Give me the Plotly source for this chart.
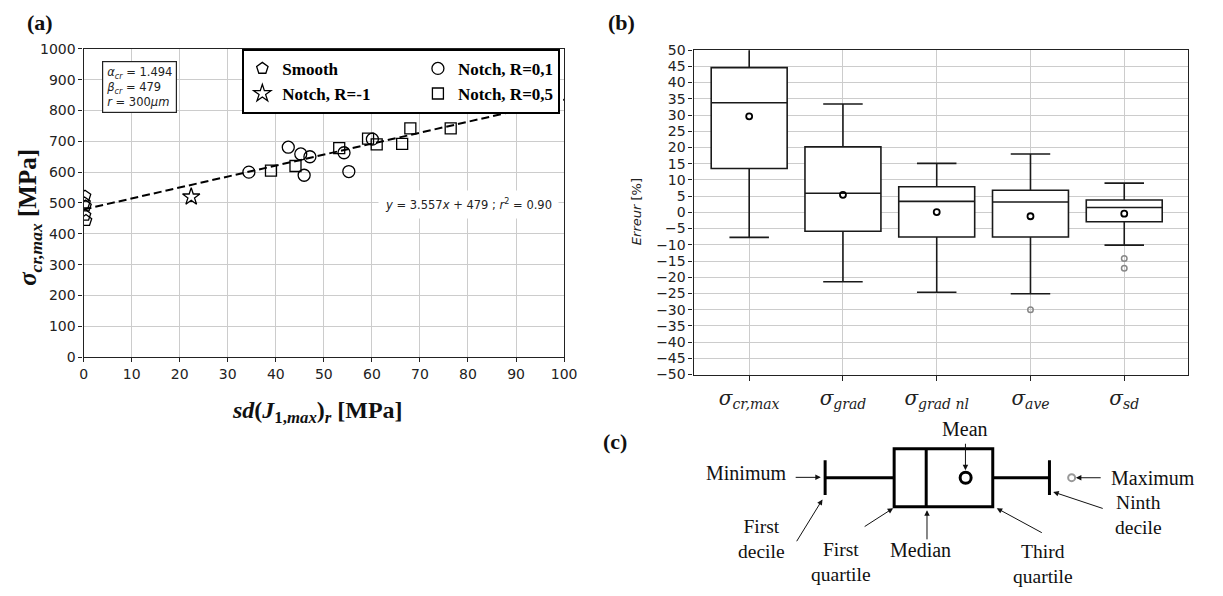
import plotly.graph_objects as go

W, H = 1223, 596


def px(x, y):
    return x / W, 1 - y / H


# ---------------- Panel (a) data ----------------
smooth_x = [0.3, 0.2, 0.4, 0.3, 0.5]
smooth_y = [522, 500, 490, 460, 443]
star_x = [22.4]
star_y = [520]
r01_x = [34.4, 42.6, 45.2, 45.9, 47.1, 54.2, 55.2, 60.1]
r01_y = [600, 681, 659, 590, 650, 663, 602, 707]
r05_x = [39.0, 44.1, 53.2, 59.2, 61.0, 66.3, 68.0, 76.4]
r05_y = [605, 620, 678, 709, 690, 692, 742, 742]
fit_x = [0, 100]
fit_y = [479, 834.7]

# ---------------- Panel (b) data ----------------
box_pos = [1, 2, 3, 4, 5]
box_labels = [
    "<i>σ</i><sub><i>cr,max</i></sub>",
    "<i>σ</i><sub><i>grad</i></sub>",
    "<i>σ</i><sub><i>grad nl</i></sub>",
    "<i>σ</i><sub><i>ave</i></sub>",
    "<i>σ</i><sub><i>sd</i></sub>",
]
q1 = [13.5, -5.8, -7.6, -7.6, -2.9]
median = [33.8, 5.9, 3.4, 3.2, 1.5]
q3 = [44.6, 20.2, 7.9, 6.8, 3.8]
low_whisker = [-7.7, -21.4, -24.6, -25.1, -10.1]
high_whisker = [56.0, 33.4, 15.1, 18.0, 9.0]
means = [29.6, 5.4, 0.1, -1.2, -0.4]
outlier_pos = [4, 5, 5]
outlier_val = [-30.0, -14.2, -17.2]

# ---------------- Panel (c) schematic data ----------------
sch_d1 = [0]
sch_q1 = [14]
sch_med = [20.5]
sch_q3 = [34]
sch_d9 = [45.5]
sch_mean = [28.5]
sch_max = [50]

fig = go.Figure()

mk_line = dict(color="black", width=1.3)
pad = "&nbsp;" * 10
fig.add_trace(go.Scatter(x=fit_x, y=fit_y, mode="lines",
                         line=dict(color="black", width=2, dash="8px,4px"),
                         showlegend=False, xaxis="x", yaxis="y"))
fig.add_trace(go.Scatter(x=smooth_x, y=smooth_y, mode="markers", name="<b>Smooth</b>" + pad,
                         legendgroup="L", marker=dict(symbol="pentagon-open", size=12, line=mk_line, color="black"),
                         xaxis="x", yaxis="y"))
fig.add_trace(go.Scatter(x=star_x, y=star_y, mode="markers", name="<b>Notch, R=-1</b>" + pad,
                         legendgroup="L", marker=dict(symbol="star-open", size=13, line=mk_line, color="black"),
                         xaxis="x", yaxis="y"))
fig.add_trace(go.Scatter(x=r01_x, y=r01_y, mode="markers", name="<b>Notch, R=0,1</b>",
                         legendgroup="R", marker=dict(symbol="circle-open", size=12, line=mk_line, color="black"),
                         xaxis="x", yaxis="y"))
fig.add_trace(go.Scatter(x=r05_x, y=r05_y, mode="markers", name="<b>Notch, R=0,5</b>",
                         legendgroup="R", marker=dict(symbol="square-open", size=11, line=mk_line, color="black"),
                         xaxis="x", yaxis="y"))

# Panel (b) boxes
fig.add_trace(go.Box(x=box_pos, q1=q1, median=median, q3=q3,
                     lowerfence=low_whisker, upperfence=high_whisker,
                     width=0.81, whiskerwidth=0.52, fillcolor="white",
                     line=dict(color="#1a1a1a", width=1.6), boxpoints=False,
                     showlegend=False, xaxis="x2", yaxis="y2"))
fig.add_trace(go.Scatter(x=box_pos, y=means, mode="markers",
                         marker=dict(symbol="circle-open", size=6, color="black", line=dict(color="black", width=1.8)),
                         showlegend=False, xaxis="x2", yaxis="y2"))
fig.add_trace(go.Scatter(x=outlier_pos, y=outlier_val, mode="markers",
                         marker=dict(symbol="circle-open", size=5.5, color="#888", line=dict(color="#888", width=1.5)),
                         showlegend=False, xaxis="x2", yaxis="y2"))

# Panel (c) schematic
fig.add_trace(go.Box(y=[0], q1=sch_q1, median=sch_med, q3=sch_q3,
                     lowerfence=sch_d1, upperfence=sch_d9, orientation="h",
                     width=1.0, whiskerwidth=0.6, fillcolor="white",
                     line=dict(color="black", width=3), boxpoints=False,
                     showlegend=False, xaxis="x3", yaxis="y3"))
fig.add_trace(go.Scatter(x=sch_mean, y=[0], mode="markers",
                         marker=dict(symbol="circle-open", size=11, color="black", line=dict(color="black", width=3)),
                         showlegend=False, xaxis="x3", yaxis="y3"))
fig.add_trace(go.Scatter(x=sch_max, y=[0], mode="markers",
                         marker=dict(symbol="circle-open", size=7, color="#999", line=dict(color="#999", width=2)),
                         showlegend=False, xaxis="x3", yaxis="y3"))

grid = "#cccccc"
tickfont = dict(family="DejaVu Sans", size=14, color="#222")

ax_a_x = [80.7 / W, 568 / W]
ax_a_y = [1 - 358.7 / H, 1 - 42 / H]
ax_b_x = [699.3 / W, 1200.7 / W]
ax_b_y = [1 - 376.7 / H, 1 - 43.3 / H]

fig.update_layout(
    width=W, height=H, margin=dict(l=0, r=0, t=0, b=0),
    paper_bgcolor="white", plot_bgcolor="white",
    font=dict(family="DejaVu Sans", color="#222"),
    xaxis=dict(domain=ax_a_x, range=[0, 100], dtick=10, tick0=0, showgrid=True, gridcolor=grid,
               gridwidth=1, ticks="outside", ticklen=4, tickcolor="#222", showline=True,
               linecolor="#222", linewidth=1.2, mirror=True, zeroline=False, tickfont=tickfont,
               anchor="y"),
    yaxis=dict(domain=ax_a_y, range=[0, 1000], dtick=100, tick0=0, showgrid=True, gridcolor=grid,
               gridwidth=1, ticks="outside", ticklen=4, tickcolor="#222", showline=True,
               linecolor="#222", linewidth=1.2, mirror=True, zeroline=False, tickfont=tickfont,
               anchor="x"),
    xaxis2=dict(domain=ax_b_x, range=[0.407, 5.68], tickvals=box_pos, ticktext=box_labels,
                showgrid=True, gridcolor=grid, gridwidth=1, ticks="outside", ticklen=5,
                tickcolor="#222", showline=True, linecolor="#222", linewidth=1.2, mirror=True,
                zeroline=False, tickfont=dict(family="DejaVu Serif", size=20, color="#222"),
                anchor="y2"),
    yaxis2=dict(domain=ax_b_y, range=[-50, 50], dtick=5, tick0=0, showgrid=True, gridcolor=grid,
                gridwidth=1, ticks="outside", ticklen=4, tickcolor="#222", showline=True,
                linecolor="#222", linewidth=1.2, mirror=True, zeroline=False, tickfont=tickfont,
                anchor="x2"),
    xaxis3=dict(domain=[0.5, 1.0], range=[-44.24, 78.06], visible=False, anchor="y3"),
    yaxis3=dict(domain=[0, 176 / H], range=[-1.9, 1.05], visible=False, anchor="x3"),
    legend=dict(orientation="h", traceorder="grouped", x=241.7 / W, y=1 - 42 / H,
                xanchor="left", yanchor="top", bgcolor="white", bordercolor="black",
                borderwidth=2, tracegroupgap=0,
                font=dict(family="Liberation Serif", size=17, color="black")),
    showlegend=True,
)

ann = []


def text(x, y, s, size=20, family="Liberation Serif", **kw):
    xp, yp = px(x, y)
    d = dict(x=xp, y=yp, xref="paper", yref="paper", text=s, showarrow=False,
             font=dict(family=family, size=size, color=kw.pop("color", "#111")),
             xanchor=kw.pop("xanchor", "center"), yanchor=kw.pop("yanchor", "middle"))
    d.update(kw)
    ann.append(d)


def arrow(x0, y0, x1, y1):
    xp, yp = px(x1, y1)
    ann.append(dict(x=xp, y=yp, xref="paper", yref="paper", text="", showarrow=True,
                    ax=x0 - x1, ay=y0 - y1, arrowhead=2, arrowsize=1.1, arrowwidth=1,
                    arrowcolor="#111"))


# panel labels
text(37, 15, "<b>(a)</b>", size=22)
text(626, 15, "<b>(b)</b>", size=22)
text(620, 445, "<b>(c)</b>", size=22)

# axis titles panel (a)
text(26, 215, "<b><i>σ</i><sub><i>cr,max</i></sub> [MPa]</b>", size=25, textangle=-90)
text(318, 415, "<b><i>sd</i>(<i>J</i><sub>1,<i>max</i></sub>)<sub><i>r</i></sub> [MPa]</b>", size=24)

# parameter box
text(99.3, 54, "<i>α</i><sub><i>cr</i></sub> = 1.494<br><i>β</i><sub><i>cr</i></sub> = 479<br><i>r</i> = 300<i>μm</i>",
     size=11.5, family="DejaVu Sans", xanchor="left", yanchor="top", align="left",
     bordercolor="#222", borderwidth=1.2, borderpad=3, bgcolor="white", color="#222")
# equation
text(471, 202, "<i>y</i> = 3.557<i>x</i> + 479 ; <i>r</i><sup>2</sup> = 0.90", size=11.5,
     family="DejaVu Sans", bgcolor="white", borderpad=6, color="#222")

# panel (b) y title
text(641.7, 209, "<i>Erreur</i> [%]", size=13, family="DejaVu Sans", textangle=-90, color="#222")

# panel (c) labels
text(975, 432.7, "Mean")
text(752, 478, "Minimum")
text(768, 546, "First<br>decile", size=19.5)
text(848.3, 569.5, "First<br>quartile", size=19.5)
text(929.3, 557.3, "Median")
text(1053.3, 571.5, "Third<br>quartile", size=19.5)
text(1165, 482.7, "Maximum")
text(1150, 520.5, "Ninth<br>decile", size=19.5)

arrow(975, 447, 975, 475)
arrow(801.7, 482.3, 828.3, 482.3)
arrow(803.3, 548.3, 830, 505)
arrow(871.7, 533.3, 901.7, 514)
arrow(936, 546.7, 936, 516)
arrow(1053.3, 539.3, 1006.7, 514)
arrow(1113.3, 482.7, 1087, 482.7)
arrow(1115, 514.3, 1064, 497.3)

fig.update_layout(annotations=ann)

fig.write_html("out.html")
